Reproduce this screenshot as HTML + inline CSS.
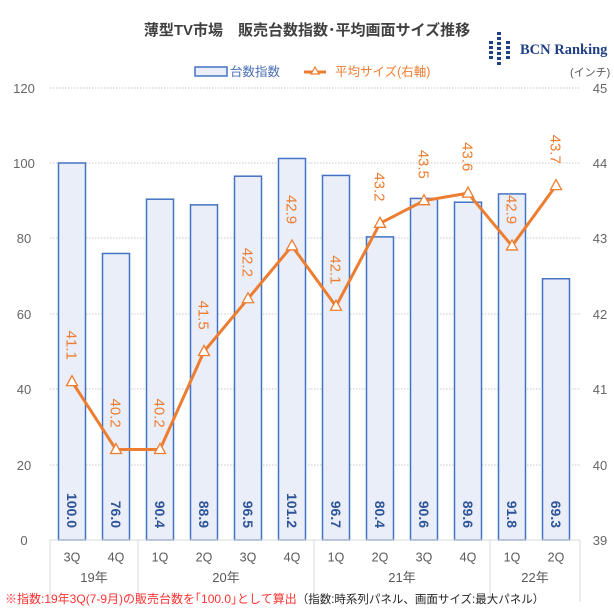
<!DOCTYPE html>
<html><head><meta charset="utf-8"><style>
html,body{margin:0;padding:0;background:#fff;}
svg{display:block;font-family:"Liberation Sans","Noto Sans CJK JP",sans-serif;}
</style></head><body>
<svg width="614" height="614" viewBox="0 0 614 614" xmlns="http://www.w3.org/2000/svg">
<text x="307" y="35" text-anchor="middle" font-size="15" font-weight="bold" fill="#404040">薄型TV市場　販売台数指数･平均画面サイズ推移</text>
<g fill="#1f3f86">
<rect x="489" y="41" width="4" height="3"/><rect x="489" y="46" width="4" height="3"/><rect x="489" y="51" width="4" height="3"/><rect x="489" y="56" width="4" height="3"/>
<rect x="497" y="32" width="4" height="3"/><rect x="497" y="37" width="4" height="3"/><rect x="497" y="42" width="4" height="3"/><rect x="497" y="47" width="4" height="3"/><rect x="497" y="52" width="4" height="3"/><rect x="497" y="57" width="4" height="3"/><rect x="497" y="62" width="4" height="3"/>
<rect x="506" y="41" width="4" height="3"/><rect x="506" y="46" width="4" height="3"/><rect x="506" y="51" width="4" height="3"/><rect x="506" y="56" width="4" height="3"/>
</g>
<text x="520" y="54" font-family="Liberation Serif,serif" font-size="14.5" font-weight="bold" fill="#1f3f86">BCN Ranking</text>
<rect x="195" y="67" width="32" height="9" fill="#e9eef8" stroke="#4472c4" stroke-width="1.5"/>
<text x="230" y="76" font-size="12.5" fill="#4a6fb5">台数指数</text>
<line x1="304" y1="72" x2="326" y2="72" stroke="#ed7d31" stroke-width="3"/>
<path d="M315,67 L319,74 L311,74 Z" fill="#fff" stroke="#ed7d31" stroke-width="1.2"/>
<text x="335" y="76" font-size="12.5" fill="#ed7d31">平均サイズ(右軸)</text>
<text x="570" y="76" font-size="11" fill="#595959">(インチ)</text>
<g stroke="#c8c8c8" stroke-width="1" stroke-dasharray="1.5,1.5">
<line x1="50" y1="88" x2="580" y2="88"/><line x1="50" y1="163" x2="580" y2="163"/><line x1="50" y1="238" x2="580" y2="238"/><line x1="50" y1="314" x2="580" y2="314"/><line x1="50" y1="389" x2="580" y2="389"/><line x1="50" y1="465" x2="580" y2="465"/>
</g>
<g font-size="13" fill="#666" text-anchor="middle">
<text x="24" y="93">120</text><text x="24" y="168">100</text><text x="24" y="243">80</text><text x="24" y="319">60</text><text x="24" y="394">40</text><text x="24" y="470">20</text><text x="24" y="545">0</text>
<text x="600" y="93">45</text><text x="600" y="168">44</text><text x="600" y="243">43</text><text x="600" y="319">42</text><text x="600" y="394">41</text><text x="600" y="470">40</text><text x="600" y="545">39</text>
</g>
<g fill="#e9eef8" stroke="#4472c4" stroke-width="1.5" id="bars"></g>
<g id="vals" font-size="14" font-weight="bold" fill="#2f5597"></g>
<polyline id="ln" fill="none" stroke="#ed7d31" stroke-width="3" stroke-linejoin="round"/>
<g id="mk" fill="#fff" stroke="#ed7d31" stroke-width="1.3"></g>
<g id="lv" font-size="15" fill="#ed7d31"></g>
<g stroke="#d9d9d9" stroke-width="1">
<line x1="50" y1="540" x2="580" y2="540"/>
<line x1="50" y1="540" x2="50" y2="602"/><line x1="138" y1="540" x2="138" y2="602"/><line x1="314" y1="540" x2="314" y2="602"/><line x1="490" y1="540" x2="490" y2="602"/><line x1="580" y1="540" x2="580" y2="602"/>
</g>
<g id="cats" font-size="12.5" fill="#595959" text-anchor="middle"></g>
<g font-size="13" fill="#595959" text-anchor="middle">
<text x="94" y="582">19年</text><text x="226" y="582">20年</text><text x="402" y="582">21年</text><text x="535" y="582">22年</text>
</g>
<text x="5" y="603" font-size="12" fill="#ff3333">※指数:19年3Q(7-9月)の販売台数を｢100.0｣として算出<tspan fill="#262626" font-size="11.5">（指数:時系列パネル、画面サイズ:最大パネル）</tspan></text>
<script>
var ns="http://www.w3.org/2000/svg";
var b=[100.0,76.0,90.4,88.9,96.5,101.2,96.7,80.4,90.6,89.6,91.8,69.3];
var s=[41.1,40.2,40.2,41.5,42.2,42.9,42.1,43.2,43.5,43.6,42.9,43.7];
var q=["3Q","4Q","1Q","2Q","3Q","4Q","1Q","2Q","3Q","4Q","1Q","2Q"];
function el(t,a,p,txt){var e=document.createElementNS(ns,t);for(var k in a)e.setAttribute(k,a[k]);if(txt)e.textContent=txt;document.getElementById(p).appendChild(e);return e;}
var pts=[];
for(var i=0;i<12;i++){
 var cx=72+44*i;
 var h=b[i]*3.77;
 el("rect",{x:cx-13.5,y:540-h,width:27,height:h},"bars");
 el("text",{transform:"translate("+(cx-5)+",528) rotate(90)","text-anchor":"end"},"vals",b[i].toFixed(1));
 var y=540-(s[i]-39)*75.4;
 pts.push(cx+","+y);
 el("text",{x:cx,y:558,"dominant-baseline":"middle"},"cats",q[i]);
 el("text",{transform:"translate("+(cx-5.5)+","+(y-51)+") rotate(90)","text-anchor":"start"},"lv",s[i].toFixed(1));
}
document.getElementById("ln").setAttribute("points",pts.join(" "));
for(var i=0;i<12;i++){var p=pts[i].split(",");var x=+p[0],y=+p[1];
 el("path",{d:"M"+x+","+(y-6)+" L"+(x+5.5)+","+(y+4)+" L"+(x-5.5)+","+(y+4)+" Z"},"mk");}
</script>
</svg>
</body></html>
